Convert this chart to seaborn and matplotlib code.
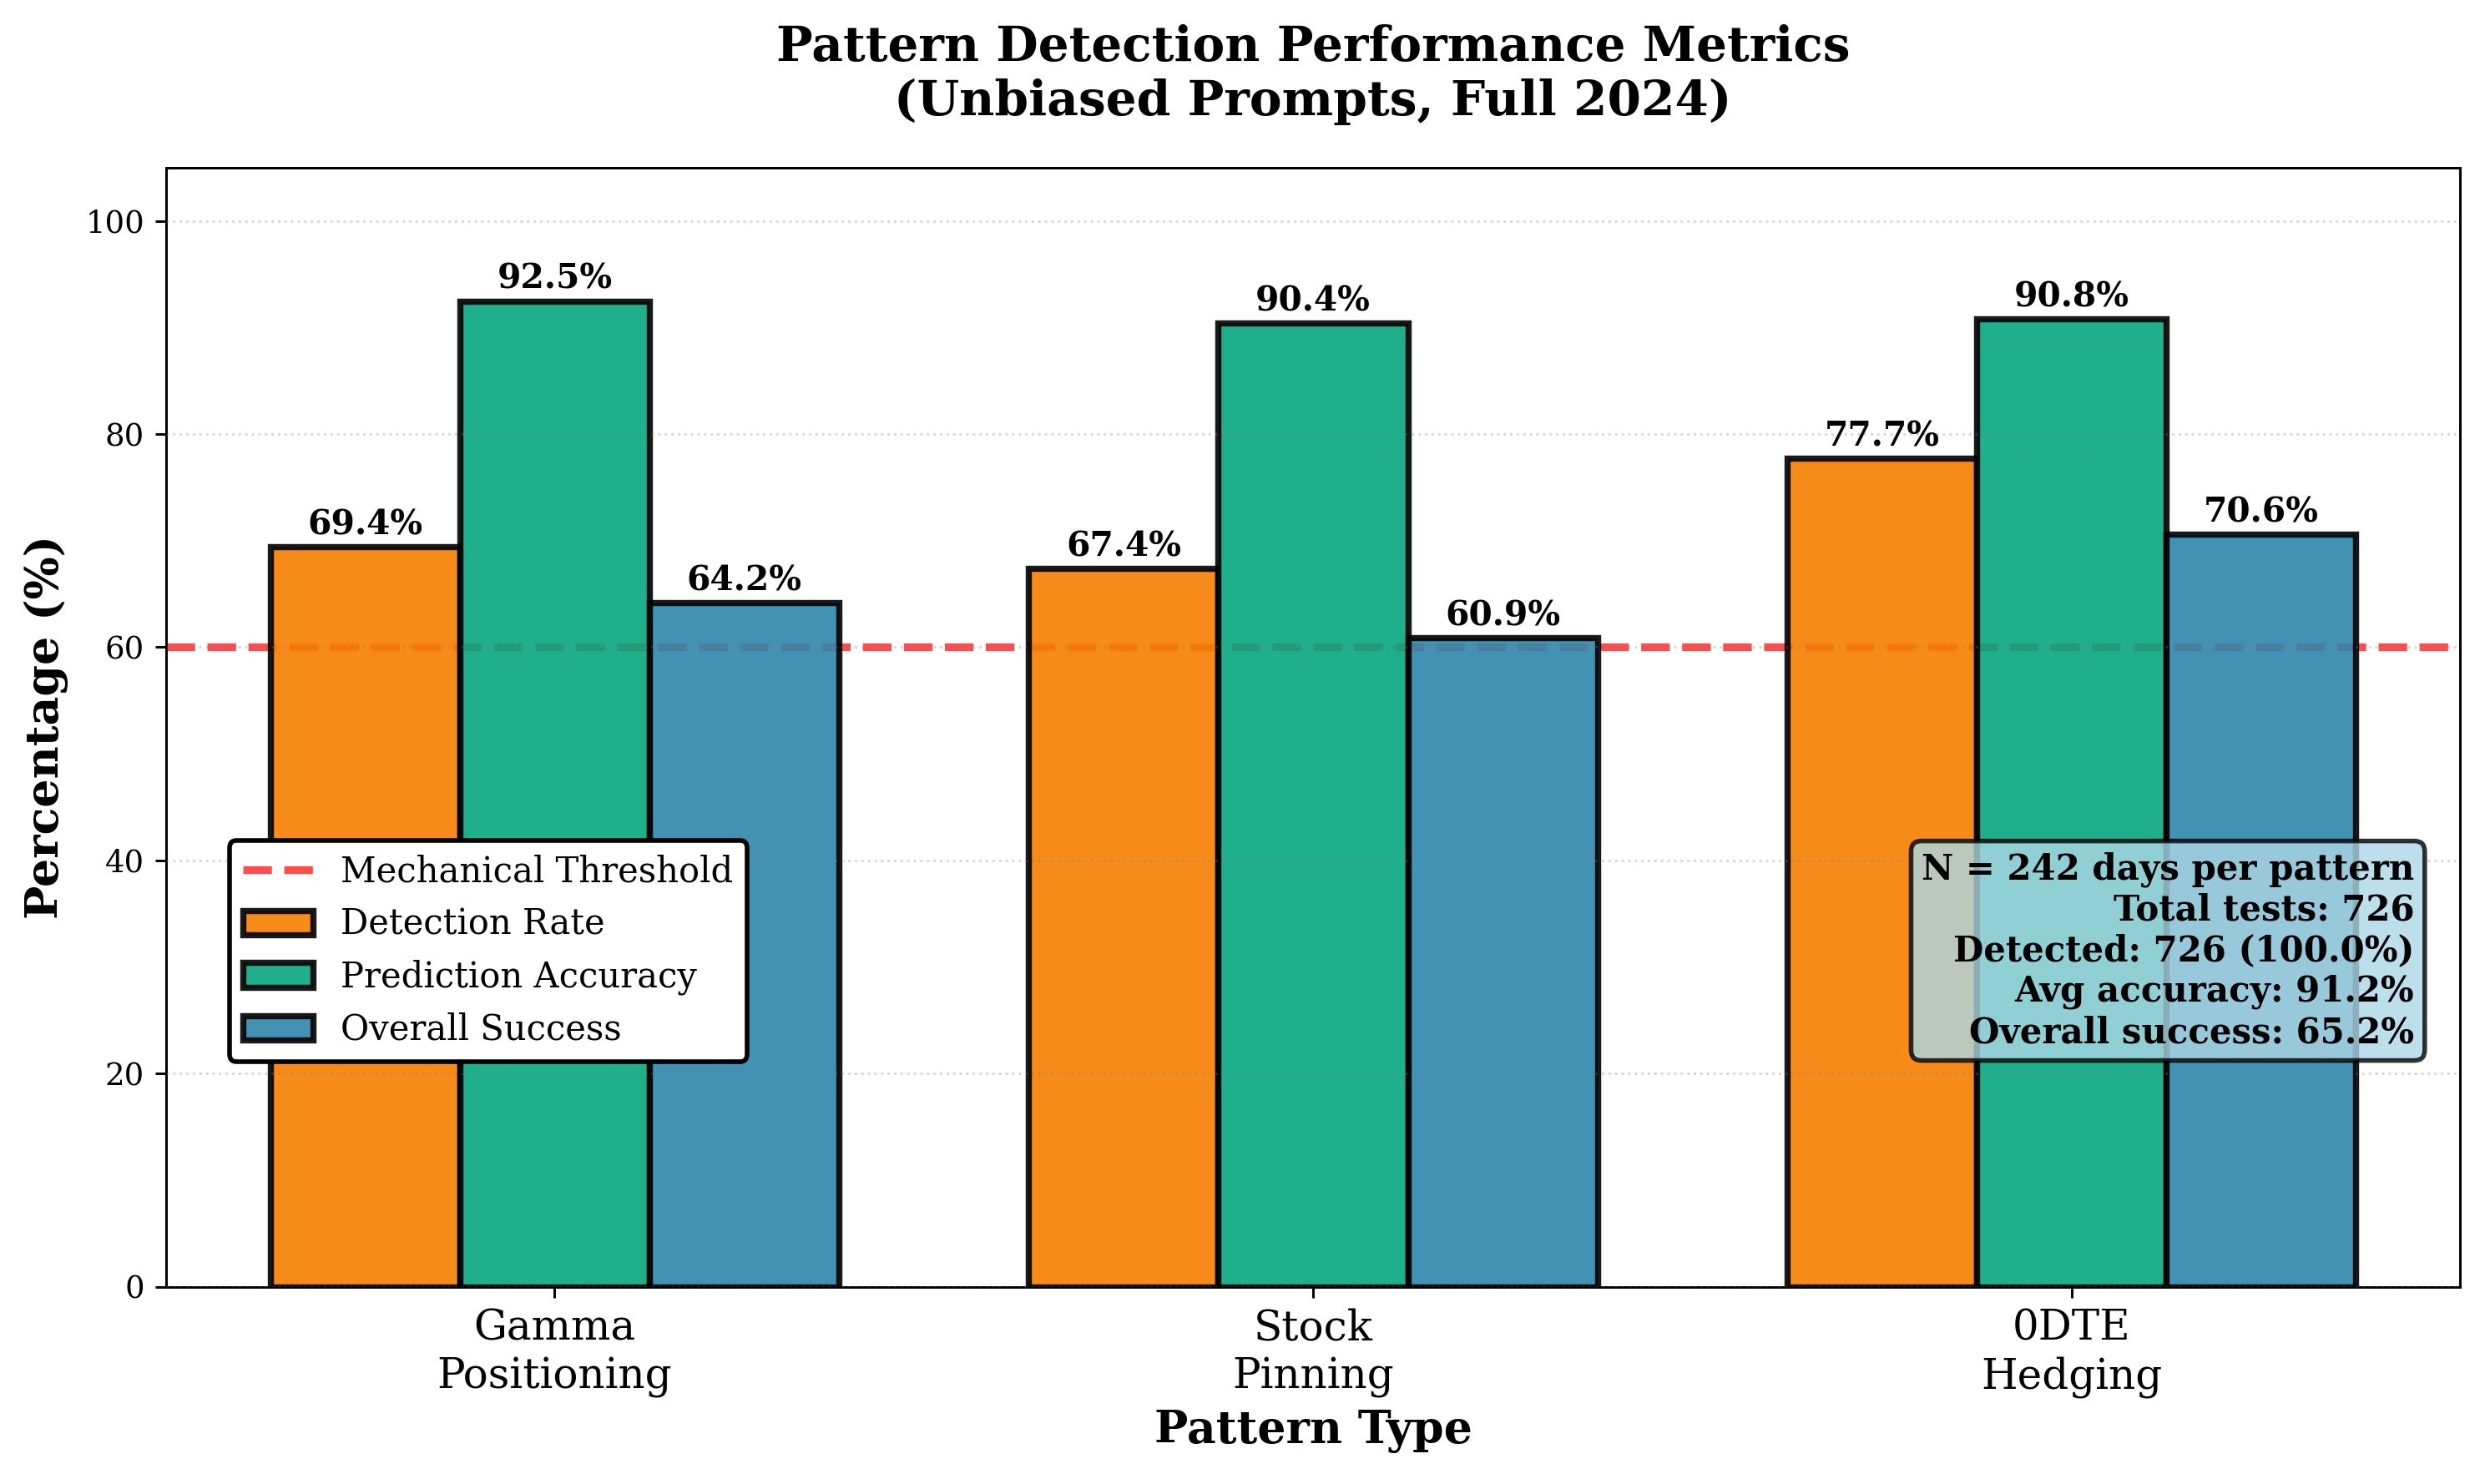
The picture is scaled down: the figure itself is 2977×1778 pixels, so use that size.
import matplotlib
matplotlib.use("Agg")
import matplotlib.pyplot as plt
from matplotlib.patches import Patch
from matplotlib.lines import Line2D
import seaborn as sns
import pandas as pd

patterns = ["Gamma\nPositioning", "Stock\nPinning", "0DTE\nHedging"]
metrics = ["Detection Rate", "Prediction Accuracy", "Overall Success"]
detection_rate = [69.4, 67.4, 77.7]
prediction_accuracy = [92.5, 90.4, 90.8]
overall_success = [64.2, 60.9, 70.6]
threshold = 60
colors = ["#F77F00", "#06A77D", "#2E86AB"]
stats_text = ("N = 242 days per pattern\nTotal tests: 726\nDetected: 726 (100.0%)\n"
              "Avg accuracy: 91.2%\nOverall success: 65.2%")

rows = []
for m, vals in zip(metrics, [detection_rate, prediction_accuracy, overall_success]):
    for p, v in zip(patterns, vals):
        rows.append({"Pattern": p, "Metric": m, "Value": v})
df = pd.DataFrame(rows)

plt.rcParams["font.family"] = ["DejaVu Serif"]
S = 200 / 150

fig = plt.figure(figsize=(14.885, 8.89), dpi=200)
ax = fig.add_axes([0.0668, 0.133, 0.9232, 0.754])

sns.barplot(data=df, x="Pattern", y="Value", hue="Metric", order=patterns,
            hue_order=metrics, palette=colors, width=0.75, alpha=0.9,
            edgecolor="black", linewidth=2 * S, legend=False, ax=ax, errorbar=None,
            saturation=1)

for cont in ax.containers:
    ax.bar_label(cont, fmt="%.1f%%", fontsize=11 * S, fontweight="bold", padding=2)

ax.axhline(threshold, color="red", linestyle="--", linewidth=2.5 * S, alpha=0.7, zorder=0.5)

ax.set_ylim(0, 105)
ax.set_xlim(-0.5125, 2.5125)
ax.set_yticks([0, 20, 40, 60, 80, 100])
ax.tick_params(axis="y", labelsize=10 * S, width=0.8 * S, length=3.5 * S, pad=3.5 * S)
ax.tick_params(axis="x", labelsize=13.5 * S, width=0.8 * S, length=3.5 * S, pad=3.5 * S)
for sp in ax.spines.values():
    sp.set_linewidth(0.8 * S)
ax.set_xlabel("Pattern Type", fontsize=14.5 * S, fontweight="bold", labelpad=4 * S)
ax.set_ylabel("Percentage (%)", fontsize=14.5 * S, fontweight="bold", labelpad=5.5 * S)
ax.set_title("Pattern Detection Performance Metrics\n(Unbiased Prompts, Full 2024)",
             fontsize=15.7 * S, fontweight="bold", pad=17 * S)
ax.yaxis.grid(True, linestyle=":", alpha=0.3, color="gray", linewidth=0.8 * S)
ax.xaxis.grid(False)
ax.set_axisbelow(False)

handles = [Line2D([0], [0], color="red", linestyle="--", linewidth=2.5 * S, alpha=0.7)]
handles += [Patch(facecolor=c, alpha=0.9, edgecolor="black", linewidth=2 * S) for c in colors]
labels = ["Mechanical Threshold"] + metrics
leg = ax.legend(handles, labels, loc="center left", bbox_to_anchor=(0.02, 0.30),
                fontsize=11.25 * S, framealpha=1, fancybox=True)
leg.get_frame().set_edgecolor("black")
leg.get_frame().set_linewidth(1.5 * S)

ax.text(0.98, 0.30, stats_text, transform=ax.transAxes, ha="right", va="center",
        fontsize=11.3 * S, fontweight="bold", zorder=10,
        bbox=dict(boxstyle="round,pad=0.3", facecolor="lightblue", alpha=0.8,
                  edgecolor="black", linewidth=1.5 * S))

fig.savefig("out.png", dpi=200)
